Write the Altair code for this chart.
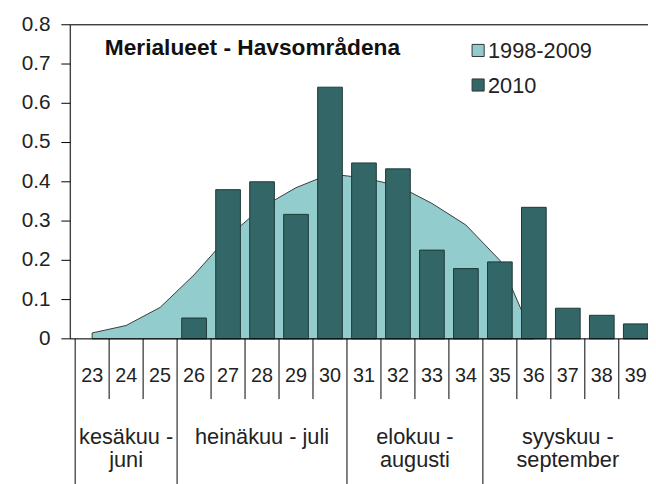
import altair as alt
import pandas as pd

# ---- data ----
weeks = list(range(23, 40))
avg_1998_2009 = [0.015, 0.034, 0.08, 0.163, 0.26, 0.335, 0.385, 0.42, 0.41, 0.39,
                 0.345, 0.29, 0.2, 0.0, None, None, None]
y2010 = [None, None, None, 0.053, 0.38, 0.40, 0.317, 0.641, 0.448, 0.433,
         0.226, 0.179, 0.196, 0.335, 0.078, 0.06, 0.038]
month_labels = ["kesäkuu -\njuni", "heinäkuu - juli", "elokuu -\naugusti", "syyskuu -\nseptember"]
month_first_week = [23, 26, 31, 35]
month_last_week = [25, 30, 34, 39]
legend_labels = ["1998-2009", "2010"]
y_ticks = [0, 0.1, 0.2, 0.3, 0.4, 0.5, 0.6, 0.7, 0.8]
y_tick_labels = ["0", "0.1", "0.2", "0.3", "0.4", "0.5", "0.6", "0.7", "0.8"]
title_text = "Merialueet - Havsområdena"

FONT = "Liberation Sans"
LIGHT = "#93CCCC"
DARK = "#336666"
W, H = 585, 318
XDOM = [22.5, 22.5 + W / 35.0]

xs = alt.Scale(domain=XDOM, nice=False, zero=False)
ys = alt.Scale(domain=[0, 0.8], nice=False)

df_avg = pd.DataFrame({"week": weeks, "value": avg_1998_2009}).dropna()
df_bar = pd.DataFrame({"week": weeks, "value": y2010}).dropna()
df_weeks = pd.DataFrame({"week": weeks, "label": [str(w) for w in weeks]})
df_yt = pd.DataFrame({"v": y_ticks, "label": y_tick_labels})

inner = [w + 0.5 for w in weeks if w not in month_last_week]
group_b = [month_first_week[0] - 0.5] + [w + 0.5 for w in month_last_week]
df_inner = pd.DataFrame({"b": inner})
df_group = pd.DataFrame({"b": group_b})
df_month = pd.DataFrame({
    "center": [(a + b) / 2 for a, b in zip(month_first_week, month_last_week)],
    "label": month_labels,
})

area = alt.Chart(df_avg).mark_area(
    color=LIGHT, stroke="#3a3a3a", strokeWidth=1, opacity=1
).encode(
    x=alt.X("week:Q", scale=xs, axis=None),
    y=alt.Y("value:Q", scale=ys, axis=None),
)

bars = alt.Chart(df_bar).mark_bar(
    size=25, color=DARK, stroke="#1c3838", strokeWidth=1
).encode(
    x=alt.X("week:Q", scale=xs, axis=None),
    y=alt.Y("value:Q", scale=ys, axis=None),
)

ytick_rules = alt.Chart(df_yt).mark_rule(color="#000", strokeWidth=1).encode(
    y=alt.Y("v:Q", scale=ys, axis=None), x=alt.value(-9), x2=alt.value(0))

ytick_text = alt.Chart(df_yt).mark_text(
    font=FONT, fontSize=21, color="#222", align="right", baseline="middle"
).encode(y=alt.Y("v:Q", scale=ys, axis=None), x=alt.value(-20), text="label:N")

left_rule = alt.Chart(pd.DataFrame({"v": [0.0]})).mark_rule(color="#000", strokeWidth=1).encode(
    x=alt.value(0), y=alt.value(0), y2=alt.value(H))
base_rule = alt.Chart(pd.DataFrame({"v": [0.0]})).mark_rule(color="#000", strokeWidth=1).encode(
    y=alt.Y("v:Q", scale=ys, axis=None), x=alt.value(0), x2=alt.value(W))
top_rule = alt.Chart(pd.DataFrame({"v": [0.8]})).mark_rule(color="#000", strokeWidth=1).encode(
    y=alt.Y("v:Q", scale=ys, axis=None), x=alt.value(0), x2=alt.value(W))

inner_rules = alt.Chart(df_inner).mark_rule(color="#000", strokeWidth=1).encode(
    x=alt.X("b:Q", scale=xs), y=alt.value(H), y2=alt.value(H + 61))
group_rules = alt.Chart(df_group).mark_rule(color="#000", strokeWidth=1).encode(
    x=alt.X("b:Q", scale=xs), y=alt.value(H), y2=alt.value(H + 160))

week_text = alt.Chart(df_weeks).mark_text(
    font=FONT, fontSize=20, color="#222", baseline="middle"
).encode(x=alt.X("week:Q", scale=xs), y=alt.value(H + 38), text="label:N")

month_text = alt.Chart(df_month).mark_text(
    font=FONT, fontSize=22, color="#222", baseline="middle", lineBreak="\n", lineHeight=24
).encode(x=alt.X("center:Q", scale=xs), y=alt.value(H + 99), text="label:N")

title = alt.Chart(pd.DataFrame({"t": [title_text]})).mark_text(
    font=FONT, fontSize=23, fontWeight="bold", color="#111", align="left", baseline="middle"
).encode(x=alt.value(35), y=alt.value(24), text="t:N")

legend_layers = []
for i, (lab, col) in enumerate(zip(legend_labels, [LIGHT, DARK])):
    d = pd.DataFrame({"label": [lab]})
    legend_layers.append(
        alt.Chart(d).mark_square(size=150, color=col, stroke="#333", strokeWidth=1, opacity=1)
        .encode(x=alt.value(413), y=alt.value(26 + 35 * i))
    )
    legend_layers.append(
        alt.Chart(d).mark_text(font=FONT, fontSize=22, color="#222", align="left", baseline="middle")
        .encode(x=alt.value(423), y=alt.value(27 + 35 * i), text="label:N")
    )

chart = alt.layer(
    area, bars, ytick_rules, ytick_text, left_rule, base_rule, top_rule, inner_rules, group_rules,
    week_text, month_text, title, *legend_layers
).properties(
    width=W, height=H,
    autosize=alt.AutoSizeParams(type="none"),
    padding={"left": 63, "top": 14, "right": 0, "bottom": 144},
).configure_view(stroke=None).configure(background="white")

chart.save("out.html", embed_options={"renderer": "svg", "actions": False})
